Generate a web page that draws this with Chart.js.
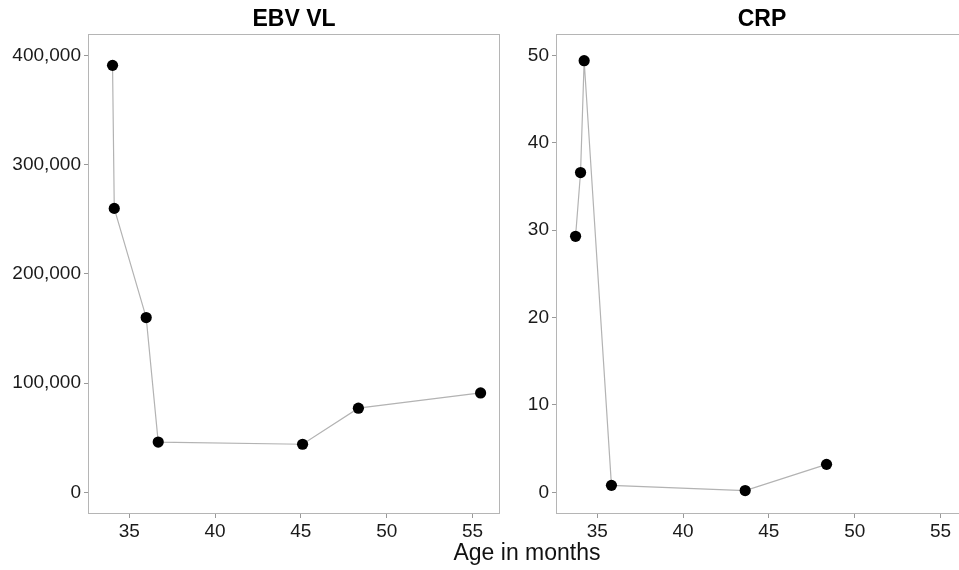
<!DOCTYPE html>
<html>
<head>
<meta charset="utf-8">
<script src="https://cdn.jsdelivr.net/npm/chart.js@4/dist/chart.umd.min.js"></script>
<style>
  html, body { margin: 0; padding: 0; background: #fff; overflow: hidden; }
  #wrap { position: relative; width: 959px; height: 570px; overflow: hidden; }
  canvas { position: absolute; top: 0; }
  #xtitle {
    position: absolute; left: 377px; width: 300px; top: 539px;
    text-align: center; font: 23px "Liberation Sans", Arial, sans-serif;
    line-height: 27px; color: #111;
  }
</style>
</head>
<body>
<div id="wrap">
  <canvas id="ebv" width="510" height="570" style="left:0;width:510px;height:570px"></canvas>
  <canvas id="crp" width="480" height="570" style="left:500px;width:480px;height:570px"></canvas>
  <div id="xtitle">Age in months</div>
</div>
<script>
// EBV viral load panel
const ebvAge = [34.03, 34.13, 35.99, 36.69, 45.1, 48.35, 55.47];
const ebvVL = [391000, 260000, 160000, 46000, 44000, 77000, 91000];
const ebvTicks = [0, 100000, 200000, 300000, 400000];

// CRP panel
const crpAge = [33.74, 34.03, 34.24, 35.83, 43.62, 48.36];
const crpVal = [29.3, 36.6, 49.4, 0.8, 0.2, 3.2];
const crpTicks = [0, 10, 20, 30, 40, 50];

const ageTicks = [35, 40, 45, 50, 55];

const FONT = '"Liberation Sans", Arial, sans-serif';

// ggplot style border all round the panel
const panelBorder = {
  id: 'panelBorder',
  afterDraw(chart) {
    const a = chart.chartArea;
    const ctx = chart.ctx;
    ctx.save();
    ctx.strokeStyle = '#b5b5b5';
    ctx.lineWidth = 1;
    ctx.strokeRect(Math.round(a.left) + 0.5, Math.round(a.top) + 0.5,
      Math.round(a.right - a.left) - 1, Math.round(a.bottom - a.top) - 1);
    ctx.restore();
  }
};

function makePanel(id, title, xs, ys, yTicks, yMin, yMax, yWidth, padRight) {
  const pts = xs.map((x, i) => ({ x: x, y: ys[i] }));
  const ctx = document.getElementById(id).getContext('2d');
  return new Chart(ctx, {
    type: 'scatter',
    data: {
      datasets: [{
        data: pts,
        showLine: true,
        borderColor: '#b3b3b3',
        borderWidth: 1.2,
        pointRadius: 5.6,
        pointBackgroundColor: '#000',
        pointBorderColor: '#000',
        pointBorderWidth: 0
      }]
    },
    options: {
      responsive: false,
      animation: false,
      layout: { padding: { right: padRight, top: 0, left: 0, bottom: 0 } },
      plugins: {
        legend: { display: false },
        tooltip: { enabled: false },
        title: {
          display: true,
          text: title,
          fullSize: false,
          color: '#000',
          font: { family: FONT, size: 23, weight: 'bold' },
          padding: { top: 6, bottom: 0 }
        }
      },
      scales: {
        x: {
          type: 'linear',
          min: 32.6,
          max: 56.6,
          afterBuildTicks: s => { s.ticks = ageTicks.map(v => ({ value: v })); },
          afterFit: s => { s.height = 56; },
          grid: { drawOnChartArea: false, drawTicks: true, tickLength: 4, color: '#999' },
          border: { display: false },
          ticks: { color: '#1a1a1a', padding: 2, font: { family: FONT, size: 19 }, maxRotation: 0 }
        },
        y: {
          type: 'linear',
          min: yMin,
          max: yMax,
          afterBuildTicks: s => { s.ticks = yTicks.map(v => ({ value: v })); },
          afterFit: s => { s.width = yWidth; },
          grid: { drawOnChartArea: false, drawTicks: true, tickLength: 4, color: '#999' },
          border: { display: false },
          ticks: {
            color: '#1a1a1a', padding: 3, font: { family: FONT, size: 19 },
            callback: v => v.toLocaleString('en-US')
          }
        }
      }
    },
    plugins: [panelBorder]
  });
}

makePanel('ebv', 'EBV VL', ebvAge, ebvVL, ebvTicks, -19900, 420100, 88, 10);
makePanel('crp', 'CRP', crpAge, crpVal, crpTicks, -2.48, 52.5, 56, 12);
</script>
</body>
</html>
